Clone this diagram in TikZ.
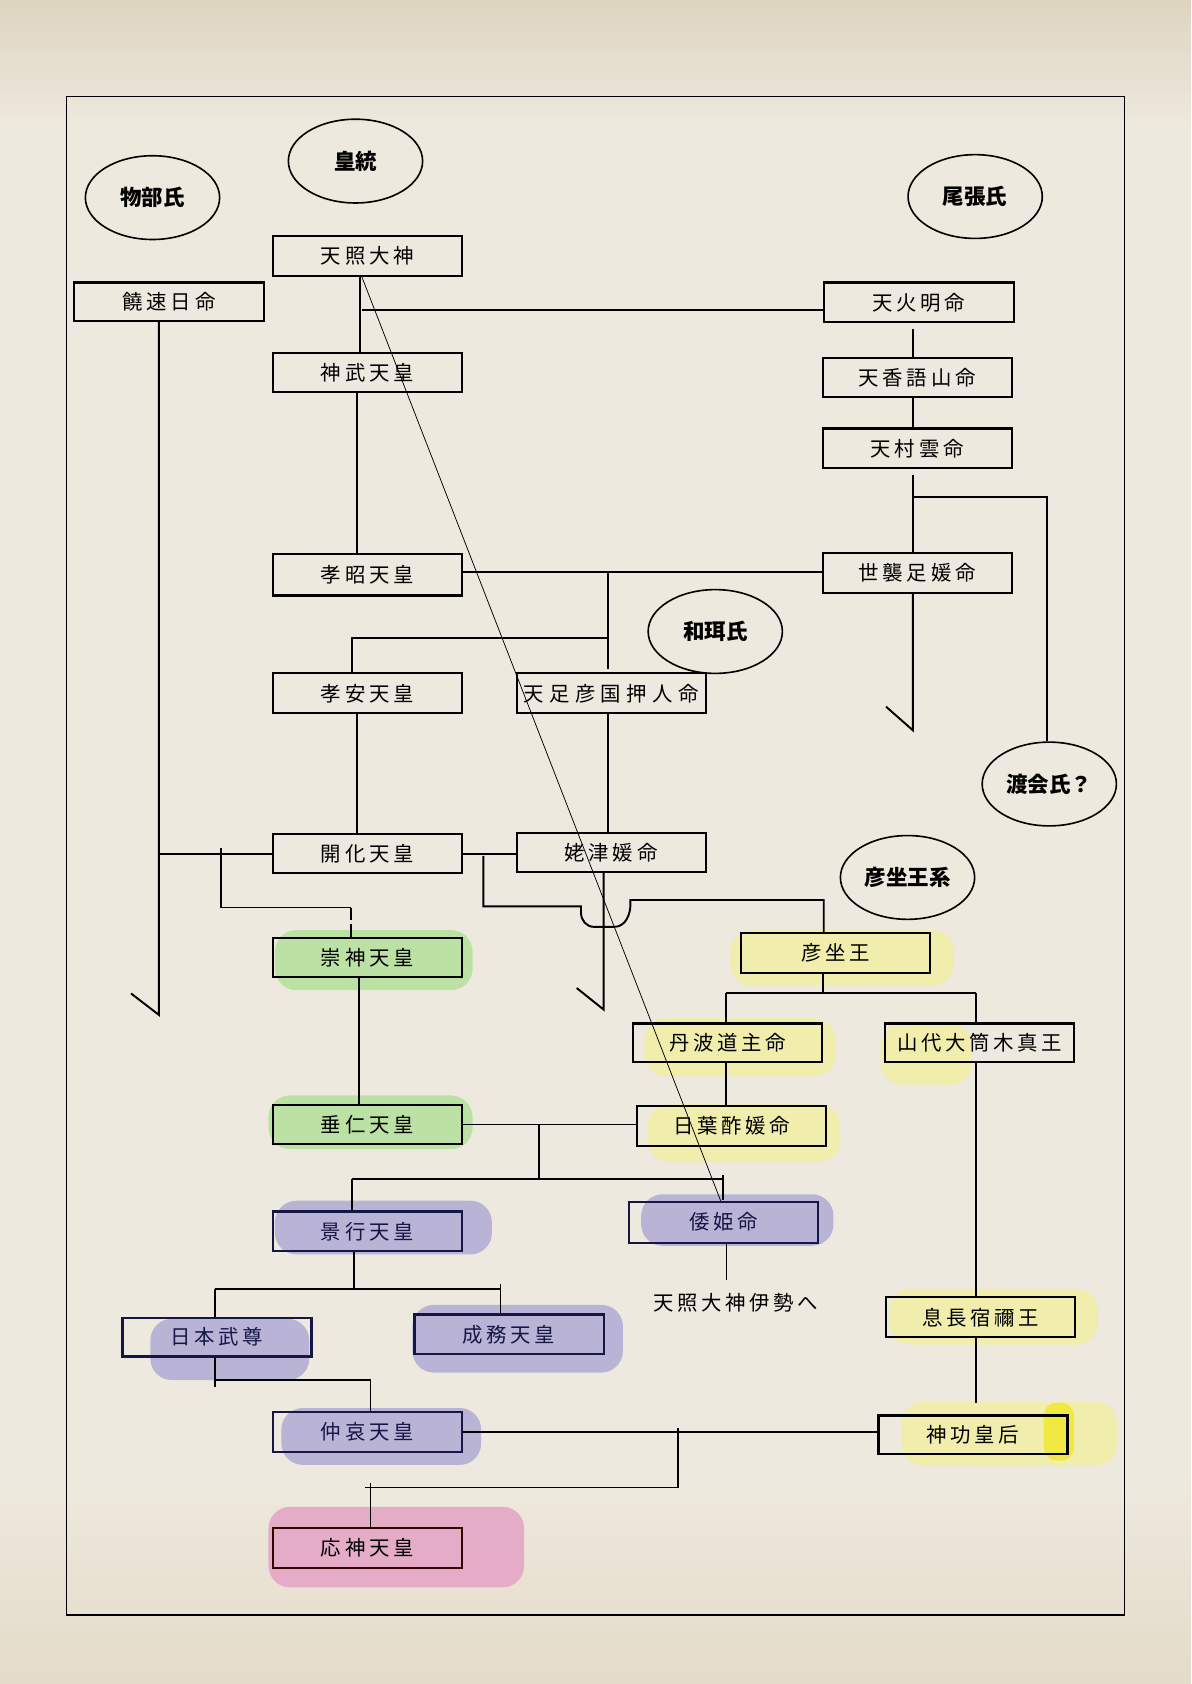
\documentclass[tikz,border=0pt]{standalone}
\usepackage{fontspec}
\newfontfamily\jp[LetterSpace=18]{Noto Sans CJK JP}
\newfontfamily\jpt{Noto Sans CJK JP}
\usetikzlibrary{shapes.geometric}
\definecolor{bgbase}{RGB}{238,233,222}
\definecolor{bgtop}{RGB}{222,212,192}
\definecolor{bgbot}{RGB}{228,219,200}
\definecolor{hlgreen}{RGB}{176,224,150}
\definecolor{hlyellow}{RGB}{242,238,160}
\definecolor{hlbright}{RGB}{240,232,40}
\definecolor{hlpurple}{RGB}{172,166,212}
\definecolor{hlpink}{RGB}{228,158,196}
\definecolor{navy}{RGB}{22,22,70}
\begin{document}
\begin{tikzpicture}[x=1pt,y=-1pt,
  box/.style={draw, line width=2pt, minimum width=176pt, minimum height=37pt, inner sep=0pt, font=\jp\fontsize{19}{19}\selectfont},
  clan/.style={draw, ellipse, line width=1.5pt, minimum width=125pt, minimum height=78pt, inner sep=0pt, font=\jpt\bfseries\fontsize{20}{20}\selectfont},
  ln/.style={line width=1.8pt},
  thinln/.style={line width=0.8pt},
  hl/.style={rounded corners=20pt, opacity=0.8},
  nv/.style={draw=navy, text=navy}]
\useasboundingbox (0,0) rectangle (1109,1568);
% background
\fill[bgbase] (0,0) rectangle (1109,1568);
\shade[top color=bgtop, bottom color=bgbase] (0,0) rectangle (1109,120);
\shade[top color=bgbase, bottom color=bgbot] (0,1380) rectangle (1109,1568);
% frame
\draw[line width=1.5pt] (62,90) rectangle (1047,1504);
% highlights
\fill[hl, hlgreen] (256,866) rectangle (440,922);
\fill[hl, hlgreen] (250,1020) rectangle (440,1070);
\fill[hl, hlyellow] (680,866) rectangle (888,918);
\fill[hl, hlyellow] (600,948) rectangle (778,1002);
\fill[hl, hlyellow] (820,953) rectangle (905,1010);
\fill[hl, hlyellow] (603,1028) rectangle (782,1082);
\fill[hl, hlpurple] (256,1118) rectangle (458,1168);
\fill[hl, hlpurple] (597,1112) rectangle (776,1160);
\fill[hl, hlpurple] (140,1228) rectangle (288,1285);
\fill[hl, hlpurple] (384,1215) rectangle (580,1278);
\fill[hl, hlpurple] (262,1311) rectangle (448,1364);
\fill[hl, hlyellow] (828,1200) rectangle (1022,1252);
\fill[hl, hlyellow] (840,1305) rectangle (1040,1365);
\fill[rounded corners=12pt, hlbright, opacity=0.8] (972,1306) rectangle (1000,1360);
\fill[hl, hlpink] (250,1403) rectangle (488,1478);
% clans
\node[clan] (mononobe) at (142,184) {物部氏};
\node[clan] (koto) at (331,150) {皇統};
\node[clan] (owari) at (908,183) {尾張氏};
\node[clan] (wani) at (666,588) {和珥氏};
\node[clan] (watarai) at (977,730) {渡会氏？};
\node[clan] (hikokei) at (845,817) {彦坐王系};
% boxes
\node[box] (tensho) at (342,238.5) {天照大神};
\node[box, minimum width=177pt, minimum height=36pt] (nigi) at (157.5,281) {饒速日命};
\node[box, minimum height=36pt] (jinmu) at (342,347) {神武天皇};
\node[box, minimum width=177pt] (hoakari) at (855.5,281.5) {天火明命};
\node[box] (kagoyama) at (854,351.5) {天香語山命};
\node[box] (murakumo) at (854,417.5) {天村雲命};
\node[box, minimum height=39pt] (kosho) at (342,535) {孝昭天皇};
\node[box] (yoso) at (854,533.5) {世襲足媛命};
\node[box] (koan) at (342,645.5) {孝安天皇};
\node[box, font=\jpt\fontsize{19}{19}\selectfont] (amatarashi) at (569,645.5) {天\kern5pt 足\kern5pt 彦\kern5pt 国\kern5pt 押\kern5pt 人\kern5pt 命};
\node[box, minimum height=36pt] (kaika) at (342,794.5) {開化天皇};
\node[box, minimum height=36pt] (hahatsu) at (569,794) {姥津媛命};
\node[box] (sujin) at (342,891.5) {崇神天皇};
\node[box] (hikoimasu) at (778,887.5) {彦坐王};
\node[box, minimum height=36pt] (tanba) at (677.5,971) {丹波道主命};
\node[box, minimum height=36pt] (yamashiro) at (912,971) {山代大筒木真王};
\node[box, minimum height=36pt] (suinin) at (342,1047) {垂仁天皇};
\node[box] (hibasu) at (681,1048.5) {日葉酢媛命};
\node[box, nv] (keiko) at (342,1146.5) {景行天皇};
\node[box, nv, minimum height=38pt] (yamato) at (674,1138) {倭姫命};
\node[box, nv, minimum height=36pt] (takeru) at (202,1245) {日本武尊};
\node[box, nv] (seimu) at (474,1242.5) {成務天皇};
\node[box] (okinaga) at (913,1226.5) {息長宿禰王};
\node[box, nv] (chuai) at (342,1333.5) {仲哀天皇};
\node[box, minimum height=36pt] (jingu) at (906,1336) {神功皇后};
\node[box, draw=black!80!red] (ojin) at (342,1441.5) {応神天皇};
\node[font=\jp\fontsize{19}{19}\selectfont, inner sep=0pt] (ise) at (685,1213) {天照大神伊勢へ};
% connectors
\draw[ln] (tensho.south -| 335,0) -- (jinmu.north -| 335,0);
\draw[ln] (337,289) -- (hoakari.west |- 0,289);
\draw[ln] (850,306) -- (kagoyama.north -| 850,0);
\draw[ln] (kagoyama.south -| 850,0) -- (murakumo.north -| 850,0);
\draw[ln] (850,442) -- (yoso.north -| 850,0);
\draw[ln] (850,463) -- (975,463) -- (watarai.north -| 975,0);
\draw[ln] (yoso.south -| 850,0) -- (850,680) -- (825,658);
\draw[ln] (kosho.east |- 0,533) -- (yoso.west |- 0,533);
\draw[ln] (566,533) -- (566,623);
\draw[ln] (566,594) -- (328,594) -- (koan.north -| 328,0);
\draw[ln] (jinmu.south -| 332,0) -- (kosho.north -| 332,0);
\draw[ln] (koan.south -| 332,0) -- (kaika.north -| 332,0);
\draw[ln] (amatarashi.south -| 566,0) -- (hahatsu.north -| 566,0);
\draw[ln] (nigi.south -| 148,0) -- (148,945) -- (122,925);
\draw[ln] (148,795) -- (kaika.west |- 0,795);
\draw[ln] (206,790) -- (206,845) -- (327,845);
\draw[ln] (327,845) -- (327,857) (327,860) -- (sujin.north -| 327,0);
\draw[ln] (kaika.east |- 0,795) -- (hahatsu.west |- 0,795);
\draw[ln] (450,797) -- (450,844) -- (541,844) -- (541,850) to[out=-90,in=180] (553,863) -- (572,863) to[out=0,in=-90] (587,842) -- (587,838) -- (767,838) -- (hikoimasu.north -| 767,0);
\draw[ln] (hahatsu.south -| 562,0) -- (562,940) -- (537,920);
\draw[ln] (sujin.south -| 334,0) -- (suinin.north -| 334,0);
\draw[ln] (hikoimasu.south -| 766,0) -- (766,925);
\draw[ln] (676,925) -- (909,925);
\draw[ln] (676,925) -- (tanba.north -| 676,0);
\draw[ln] (909,925) -- (yamashiro.north -| 909,0);
\draw[ln] (tanba.south -| 676,0) -- (hibasu.north -| 676,0);
\draw[ln] (yamashiro.south -| 909,0) -- (okinaga.north -| 909,0);
\draw[ln] (okinaga.south -| 909,0) -- (909,1306);
\draw[ln] (suinin.east |- 0,1047) -- (hibasu.west |- 0,1047);
\draw[ln] (502,1047) -- (502,1098);
\draw[ln] (328,1098) -- (673,1098);
\draw[ln] (328,1098) -- (keiko.north -| 328,0);
\draw[ln] (673,1094) -- (673,1117);
\draw[thinln] (yamato.south -| 676,0) -- (676,1192);
\draw[ln] (keiko.south -| 330,0) -- (330,1200);
\draw[ln] (200,1200) -- (466,1200);
\draw[ln] (200,1200) -- (takeru.north -| 200,0);
\draw[ln] (466,1196) -- (seimu.north -| 466,0);
\draw[ln] (takeru.south -| 200,0) -- (200,1291);
\draw[ln] (200,1285) -- (345,1285) -- (chuai.north -| 345,0);
\draw[ln] (chuai.east |- 0,1333) -- (jingu.west |- 0,1333);
\draw[ln] (631,1330) -- (631,1385) -- (340,1385);
\draw[ln] (345,1381) -- (ojin.north -| 345,0);
\draw[line width=0.7pt] (tensho.south -| 337,0) -- (yamato.north -| 671,0);
\end{tikzpicture}
\end{document}
